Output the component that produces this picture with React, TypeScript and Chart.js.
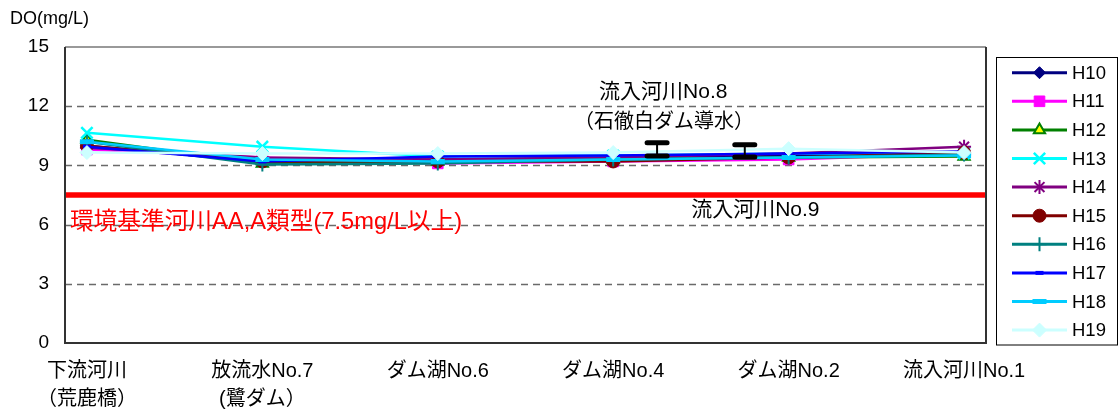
import React, { useEffect, useRef } from 'react';
import { Chart, registerables } from 'chart.js';
import { drawPoint } from 'chart.js/helpers';

Chart.register(...registerables);

// ---------- data ----------
const categories: string[][] = [
  ['下流河川', '（荒鹿橋）'],
  ['放流水No.7', '(鷺ダム）'],
  ['ダム湖No.6'],
  ['ダム湖No.4'],
  ['ダム湖No.2'],
  ['流入河川No.1'],
];

const seriesNames = ['H10', 'H11', 'H12', 'H13', 'H14', 'H15', 'H16', 'H17', 'H18', 'H19'];

const H10 = [10.0, 9.2, 9.3, 9.4, 9.5, 9.6];
const H11 = [9.8, 9.4, 9.1, 9.2, 9.3, 9.6];
const H12 = [10.3, 9.1, 9.2, 9.3, 9.4, 9.45];
const H13 = [10.65, 9.95, 9.45, 9.5, 9.6, 9.6];
const H14 = [9.9, 9.4, 9.3, 9.4, 9.6, 9.95];
const H15 = [10.0, 9.2, 9.2, 9.2, 9.4, 9.65];
const H16 = [10.2, 9.05, 9.1, 9.3, 9.4, 9.55];
const H17 = [9.95, 9.2, 9.45, 9.5, 9.6, 9.7];
const H18 = [10.2, 9.3, 9.2, 9.3, 9.4, 9.5];
const H19 = [9.65, 9.6, 9.6, 9.65, 9.85, 9.65];

const seriesValues = [H10, H11, H12, H13, H14, H15, H16, H17, H18, H19];

const yTickValues = [0, 3, 6, 9, 12, 15];
const yTitle = 'DO(mg/L)';

const standardValue = 7.5;
const standardLabel = '環境基準河川AA,A類型(7.5mg/L以上)';

// inflow points between ダム湖No.4 and ダム湖No.2
const inflowPositions = [3.25, 3.75];
const inflowHigh = [10.15, 10.05];
const inflowLow = [9.48, 9.43];
const inflowNo8Label = ['流入河川No.8', '（石徹白ダム導水）'];
const inflowNo9Label = '流入河川No.9';

// ---------- styles ----------
const FONT = "'Liberation Sans', 'Noto Sans CJK JP', sans-serif";
const X_MIN = -0.125;
const X_MAX = 5.125;

type SeriesStyle = {
  color: string;
  pointStyle: string;
  radius: number;
  fill: string;
  pointBorder: string;
  pointBorderWidth: number;
};

const styles: SeriesStyle[] = [
  { color: '#000080', pointStyle: 'rectRot', radius: 6, fill: '#000080', pointBorder: '#000080', pointBorderWidth: 1 },
  { color: '#FF00FF', pointStyle: 'rect', radius: 7.5, fill: '#FF00FF', pointBorder: '#FF00FF', pointBorderWidth: 1 },
  { color: '#008000', pointStyle: 'triangle', radius: 6.5, fill: '#FFFF00', pointBorder: '#008000', pointBorderWidth: 2 },
  { color: '#00FFFF', pointStyle: 'crossRot', radius: 8, fill: '#00FFFF', pointBorder: '#00FFFF', pointBorderWidth: 2.5 },
  { color: '#800080', pointStyle: 'star', radius: 7, fill: '#800080', pointBorder: '#800080', pointBorderWidth: 2 },
  { color: '#800000', pointStyle: 'circle', radius: 6.5, fill: '#800000', pointBorder: '#800000', pointBorderWidth: 1 },
  { color: '#008080', pointStyle: 'cross', radius: 7, fill: '#008080', pointBorder: '#008080', pointBorderWidth: 2 },
  { color: '#0000FF', pointStyle: 'line', radius: 4, fill: '#0000FF', pointBorder: '#0000FF', pointBorderWidth: 4 },
  { color: '#00CCFF', pointStyle: 'line', radius: 7, fill: '#00CCFF', pointBorder: '#00CCFF', pointBorderWidth: 5 },
  { color: '#CCFFFF', pointStyle: 'rectRot', radius: 7, fill: '#CCFFFF', pointBorder: '#CCFFFF', pointBorderWidth: 1 },
];

const decorPlugin = {
  id: 'decor',
  beforeDatasetsDraw(chart: any) {
    const { ctx, chartArea } = chart;
    const y = chart.scales.y;
    ctx.save();
    ctx.strokeStyle = '#6a6a6a';
    ctx.lineWidth = 1.5;
    ctx.setLineDash([7, 5]);
    yTickValues.forEach((v) => {
      if (v <= 0 || v >= 15) return;
      const py = Math.round(y.getPixelForValue(v)) + 0.5;
      ctx.beginPath();
      ctx.moveTo(chartArea.left, py);
      ctx.lineTo(chartArea.right, py);
      ctx.stroke();
    });
    ctx.restore();
  },
  afterDatasetsDraw(chart: any) {
    const { ctx, chartArea } = chart;
    const x = chart.scales.x;
    const y = chart.scales.y;
    ctx.save();
    // frame
    ctx.setLineDash([]);
    ctx.lineWidth = 2;
    ctx.strokeStyle = '#999999';
    ctx.beginPath();
    ctx.moveTo(chartArea.left, chartArea.top);
    ctx.lineTo(chartArea.right, chartArea.top);
    ctx.stroke();
    ctx.strokeStyle = '#333333';
    ctx.beginPath();
    ctx.moveTo(chartArea.right, chartArea.top);
    ctx.lineTo(chartArea.right, chartArea.bottom);
    ctx.lineTo(chartArea.left, chartArea.bottom);
    ctx.lineTo(chartArea.left, chartArea.top);
    ctx.stroke();

    // inflow markers
    ctx.strokeStyle = '#000000';
    inflowPositions.forEach((pos, i) => {
      const px = x.getPixelForValue(pos);
      const pt = y.getPixelForValue(inflowHigh[i]);
      const pb = y.getPixelForValue(inflowLow[i]);
      ctx.lineCap = 'butt';
      ctx.lineWidth = 2;
      ctx.beginPath();
      ctx.moveTo(px, pt);
      ctx.lineTo(px, pb);
      ctx.stroke();
      ctx.lineCap = 'round';
      ctx.lineWidth = 5;
      [pt, pb].forEach((py) => {
        ctx.beginPath();
        ctx.moveTo(px - 10, py);
        ctx.lineTo(px + 10, py);
        ctx.stroke();
      });
    });

    // annotations
    ctx.textBaseline = 'middle';
    ctx.fillStyle = '#000000';
    ctx.textAlign = 'center';
    ctx.font = `21px ${FONT}`;
    ctx.fillText(inflowNo8Label[0], x.getPixelForValue(3.285), y.getPixelForValue(12.72));
    ctx.font = `20px ${FONT}`;
    ctx.fillText(inflowNo8Label[1], x.getPixelForValue(3.29), y.getPixelForValue(11.2));
    ctx.font = `21px ${FONT}`;
    ctx.fillText(inflowNo9Label, x.getPixelForValue(3.81), y.getPixelForValue(6.74));

    ctx.textAlign = 'left';
    ctx.fillStyle = '#FF0000';
    ctx.font = `23.7px ${FONT}`;
    ctx.fillText(standardLabel, x.getPixelForValue(-0.097), y.getPixelForValue(6.13));
    ctx.restore();
  },
  afterDraw(chart: any) {
    const { ctx } = chart;
    ctx.save();
    // y title
    ctx.fillStyle = '#000000';
    ctx.textBaseline = 'middle';
    ctx.textAlign = 'left';
    ctx.font = `18px ${FONT}`;
    ctx.fillText(yTitle, 10, 19);

    // legend
    const boxL = 996.5, boxT = 57.5, boxW = 121, boxH = 287.5;
    ctx.strokeStyle = '#000000';
    ctx.lineWidth = 1;
    ctx.strokeRect(boxL, boxT, boxW, boxH);
    const y0 = 72.7, step = 28.6;
    seriesNames.forEach((name, i) => {
      const s = styles[i];
      const cy = y0 + step * i;
      ctx.strokeStyle = s.color;
      ctx.lineWidth = 3;
      ctx.beginPath();
      ctx.moveTo(1012, cy);
      ctx.lineTo(1067, cy);
      ctx.stroke();
      ctx.fillStyle = s.fill;
      ctx.strokeStyle = s.pointBorder;
      ctx.lineWidth = s.pointBorderWidth;
      drawPoint(ctx, { pointStyle: s.pointStyle, radius: s.radius, rotation: 0, borderWidth: s.pointBorderWidth } as any, 1039.5, cy);
      ctx.fillStyle = '#000000';
      ctx.font = `18.5px ${FONT}`;
      ctx.textBaseline = 'middle';
      ctx.fillText(name, 1072, cy + 1);
    });
    ctx.restore();
  },
};

export default function App() {
  const canvasRef = useRef<HTMLCanvasElement | null>(null);

  useEffect(() => {
    document.body.style.margin = '0';
    const canvas = canvasRef.current;
    if (!canvas) return;

    const datasets: any[] = seriesNames.map((name, i) => {
      const s = styles[i];
      return {
        type: 'line',
        label: name,
        data: seriesValues[i].map((v, j) => ({ x: j, y: v })),
        borderColor: s.color,
        backgroundColor: s.fill,
        borderWidth: 2.5,
        pointStyle: s.pointStyle,
        pointRadius: s.radius,
        pointBackgroundColor: s.fill,
        pointBorderColor: s.pointBorder,
        pointBorderWidth: s.pointBorderWidth,
        tension: 0,
        order: 20 - i,
      };
    });
    datasets.push({
      type: 'line',
      label: 'standard',
      data: [
        { x: X_MIN, y: standardValue },
        { x: X_MAX, y: standardValue },
      ],
      borderColor: '#FF0000',
      borderWidth: 5.5,
      pointRadius: 0,
      order: 30,
    });

    const chart = new Chart(canvas, {
      type: 'line',
      data: { datasets },
      options: {
        responsive: false,
        animation: false,
        events: [],
        layout: { padding: { left: 0, top: 47, right: 133, bottom: 0 } },
        plugins: {
          legend: { display: false },
          tooltip: { enabled: false },
          title: { display: false },
        },
        scales: {
          x: {
            type: 'linear',
            min: X_MIN,
            max: X_MAX,
            grid: { display: false, drawTicks: false },
            border: { display: false },
            afterBuildTicks: (scale: any) => {
              scale.ticks = categories.map((_, i) => ({ value: i }));
            },
            afterFit: (scale: any) => {
              scale.height = 66;
            },
            ticks: {
              autoSkip: false,
              maxRotation: 0,
              minRotation: 0,
              padding: 14,
              color: '#000000',
              font: { family: FONT, size: 20, lineHeight: 1.4 },
              callback: (value: any) => categories[Math.round(Number(value))] ?? '',
            },
          },
          y: {
            type: 'linear',
            min: 0,
            max: 15,
            grid: { display: false, drawTicks: false },
            border: { display: false },
            afterBuildTicks: (scale: any) => {
              scale.ticks = yTickValues.map((v) => ({ value: v }));
            },
            afterFit: (scale: any) => {
              scale.width = 65;
            },
            ticks: {
              padding: 16,
              color: '#000000',
              font: { family: FONT, size: 19 },
            },
          },
        },
      } as any,
      plugins: [decorPlugin],
    });

    return () => chart.destroy();
  }, []);

  return (
    <div style={{ width: 1119, height: 409, position: 'relative', background: '#ffffff' }}>
      <canvas ref={canvasRef} width={1119} height={409} style={{ display: 'block' }} />
    </div>
  );
}
